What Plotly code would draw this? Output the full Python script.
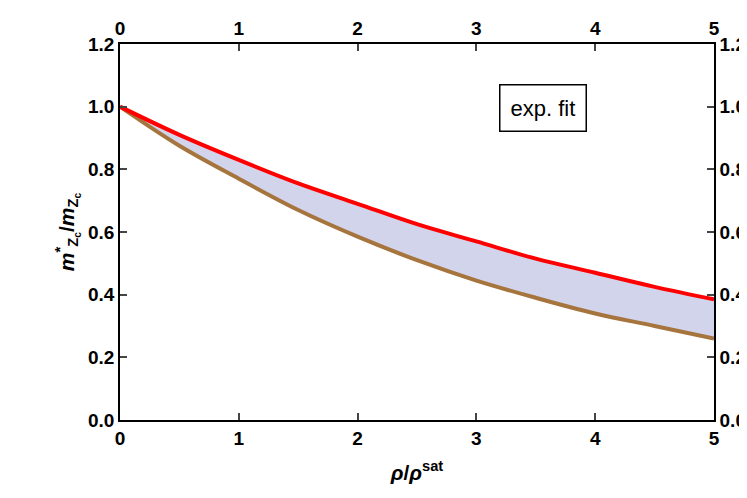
import plotly.graph_objects as go

x = [0, 0.5, 1, 1.5, 2, 2.5, 3, 3.5, 4, 4.5, 5]
upper = [1.0, 0.91, 0.83, 0.755, 0.69, 0.625, 0.57, 0.515, 0.47, 0.425, 0.385]
lower = [1.0, 0.875, 0.77, 0.67, 0.585, 0.51, 0.445, 0.39, 0.34, 0.30, 0.26]
xticks = [0, 1, 2, 3, 4, 5]
yticks = [0.0, 0.2, 0.4, 0.6, 0.8, 1.0, 1.2]

fig = go.Figure()
fig.add_trace(go.Scatter(x=x, y=lower, mode="lines", line=dict(color="#A6743D", width=4, shape="spline"), showlegend=False))
fig.add_trace(go.Scatter(x=x, y=upper, mode="lines", line=dict(color="#FF0000", width=4, shape="spline"),
                         fill="tonexty", fillcolor="rgba(210,212,235,1)", showlegend=False))
fig.add_trace(go.Scatter(x=[None], y=[None], xaxis="x2", yaxis="y2", showlegend=False))

font = dict(family="Liberation Sans", size=19, color="black")
tfont = dict(family="Liberation Sans", size=21, color="black")
ax = dict(showgrid=False, zeroline=False, showline=True, linecolor="black", linewidth=1.5,
          ticks="inside", ticklen=7, tickwidth=1.5, tickfont=font, automargin=False)
fig.update_layout(
    width=747, height=498, plot_bgcolor="white", paper_bgcolor="white",
    margin=dict(l=112, r=41, t=36, b=86),
    xaxis=dict(ax, range=[0, 5], tickvals=xticks, ticktext=[f"<b>{v}</b>" for v in xticks],
               title=dict(text="<b><i>ρ</i>/<i>ρ</i><sup>sat</sup></b>", font=tfont, standoff=18)),
    yaxis=dict(ax, range=[0, 1.2], tickvals=yticks, ticktext=[f"<b>{v:.1f}</b>" for v in yticks],
               title=dict(text="<b><i>m</i><sup>*</sup><sub>Z<sub>c</sub></sub>/<i>m</i><sub>Z<sub>c</sub></sub></b>", font=tfont, standoff=8)),
    xaxis2=dict(ax, overlaying="x", side="top", range=[0, 5], tickvals=xticks, ticktext=[f"<b>{v}</b>" for v in xticks]),
    yaxis2=dict(ax, overlaying="y", side="right", range=[0, 1.2], tickvals=yticks, ticktext=[f"<b>{v:.1f}</b>" for v in yticks]),
    annotations=[dict(x=3.56, y=0.995, xref="x", yref="y", text="exp. fit", showarrow=False,
                      font=dict(family="Liberation Sans", size=22, color="black"),
                      bordercolor="black", borderwidth=1.5, borderpad=10, bgcolor="white")],
)
fig.write_html("out.html")
